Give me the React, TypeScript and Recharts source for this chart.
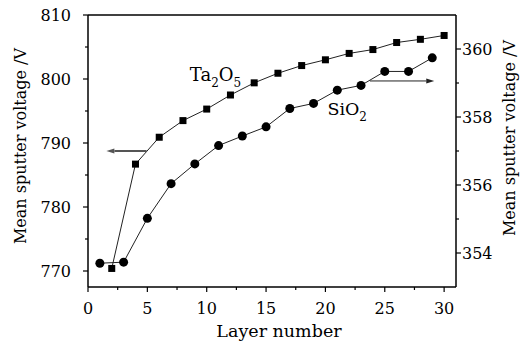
import { LineChart, Line, XAxis, YAxis, ReferenceLine, ReferenceDot } from 'recharts';

const ta2o5Layers = [2, 4, 6, 8, 10, 12, 14, 16, 18, 20, 22, 24, 26, 28, 30];
const ta2o5Voltage = [770.4, 786.7, 790.9, 793.5, 795.3, 797.5, 799.4, 800.9, 802.1, 803.0, 804.0, 804.6, 805.7, 806.2, 806.8];
const sio2Layers = [1, 3, 5, 7, 9, 11, 13, 15, 17, 19, 21, 23, 25, 27, 29];
const sio2Voltage = [353.7, 353.73, 355.02, 356.04, 356.62, 357.16, 357.44, 357.71, 358.25, 358.4, 358.79, 358.93, 359.34, 359.34, 359.74];

const xTicks = [0, 2.5, 5, 7.5, 10, 12.5, 15, 17.5, 20, 22.5, 25, 27.5, 30];
const leftTicks = [770, 775, 780, 785, 790, 795, 800, 805, 810];
const rightTicks = [354, 355, 356, 357, 358, 359, 360];

const FONT = 'DejaVu Serif';

const ta2o5Data = ta2o5Layers.map((x, i) => ({ x, v: ta2o5Voltage[i] }));
const sio2Data = sio2Layers.map((x, i) => ({ x, v: sio2Voltage[i] }));

const XTick = (props: any) => {
    const { x, y, payload } = props;
    const major = payload.value % 5 === 0;
    return (
        <g>
            <line x1={x} y1={y} x2={x} y2={y + (major ? 5 : 3)} stroke="#000" strokeWidth={1.2} />
            {major && (
                <text x={x} y={y + 27} textAnchor="middle" fontFamily={FONT} fontSize={16} fill="#000">
                    {payload.value}
                </text>
            )}
        </g>
    );
};

const LeftTick = (props: any) => {
    const { x, y, payload } = props;
    const major = payload.value % 10 === 0;
    return (
        <g>
            <line x1={x} y1={y} x2={x - (major ? 5 : 3)} y2={y} stroke="#000" strokeWidth={1.2} />
            {major && (
                <text x={x - 17} y={y} dy="0.36em" textAnchor="end" fontFamily={FONT} fontSize={16} fill="#000">
                    {payload.value}
                </text>
            )}
        </g>
    );
};

const RightTick = (props: any) => {
    const { x, y, payload } = props;
    const major = payload.value % 2 === 0;
    return (
        <g>
            <line x1={x} y1={y} x2={x + (major ? 5 : 3)} y2={y} stroke="#000" strokeWidth={1.2} />
            {major && (
                <text x={x + 6} y={y} dy="0.36em" textAnchor="start" fontFamily={FONT} fontSize={16} fill="#000">
                    {payload.value}
                </text>
            )}
        </g>
    );
};

const SquareDot = (props: any) => {
    const { cx, cy, index } = props;
    return <rect key={`sq-${index}`} x={cx - 3.5} y={cy - 3.5} width={7} height={7} fill="#000" />;
};

const arrow = (color: string, width: number) => (props: any) => {
    const { x1, y1, x2, y2 } = props;
    const dir = x2 > x1 ? 1 : -1;
    const len = 8;
    return (
        <g>
            <line x1={x1} y1={y1} x2={x2 - dir * len} y2={y2} stroke={color} strokeWidth={width} />
            <polygon
                points={`${x2},${y2} ${x2 - dir * len},${y2 - 2.5} ${x2 - dir * len},${y2 + 2.5}`}
                fill={color}
            />
        </g>
    );
};

const yLabel = (text: string, dx: number, dyCenter: number) => (props: any) => {
    const { viewBox } = props;
    const cx = viewBox.x + dx;
    const cy = viewBox.y + viewBox.height / 2 + dyCenter;
    return (
        <text
            x={cx}
            y={cy}
            transform={`rotate(-90 ${cx} ${cy})`}
            textAnchor="middle"
            dominantBaseline="central"
            fontFamily={FONT}
            fontSize={16}
            fill="#000"
        >
            {text}
        </text>
    );
};

const xLabel = (props: any) => {
    const { viewBox } = props;
    return (
        <text
            x={viewBox.x + viewBox.width / 2 + 7}
            y={viewBox.y + 50}
            textAnchor="middle"
            fontFamily={FONT}
            fontSize={17.5}
            fill="#000"
        >
            Layer number
        </text>
    );
};

export default function App() {
    return (
        <div style={{ position: 'absolute', left: 0, top: 0, background: '#fff' }}>
            <LineChart width={532} height={345} margin={{ top: 15, right: 0, bottom: 0, left: 0 }}>
                <XAxis
                    dataKey="x"
                    type="number"
                    domain={[0, 31]}
                    ticks={xTicks}
                    interval={0}
                    height={58}
                    tickSize={0}
                    tickMargin={0}
                    tickLine={false}
                    tick={<XTick />}
                    axisLine={{ stroke: '#000', strokeWidth: 1.5 }}
                    label={{ content: xLabel }}
                />
                <YAxis
                    yAxisId="left"
                    orientation="left"
                    type="number"
                    domain={[767.5, 810]}
                    ticks={leftTicks}
                    interval={0}
                    width={88}
                    tickSize={0}
                    tickMargin={0}
                    tickLine={false}
                    tick={<LeftTick />}
                    axisLine={{ stroke: '#000', strokeWidth: 1.5 }}
                    label={{ content: yLabel('Mean sputter voltage /V', 20, -5) }}
                />
                <YAxis
                    yAxisId="right"
                    orientation="right"
                    type="number"
                    domain={[353, 361]}
                    ticks={rightTicks}
                    interval={0}
                    width={76}
                    tickSize={0}
                    tickMargin={0}
                    tickLine={false}
                    tick={<RightTick />}
                    axisLine={{ stroke: '#000', strokeWidth: 1.5 }}
                    label={{ content: yLabel('Mean sputter voltage /V', 53, -13) }}
                />
                <ReferenceLine yAxisId="left" y={810} stroke="#000" strokeWidth={1.5} />
                <Line
                    yAxisId="left"
                    data={ta2o5Data}
                    dataKey="v"
                    stroke="#222"
                    strokeWidth={1}
                    dot={<SquareDot />}
                    isAnimationActive={false}
                />
                <Line
                    yAxisId="right"
                    data={sio2Data}
                    dataKey="v"
                    stroke="#222"
                    strokeWidth={1}
                    dot={{ r: 4.5, fill: '#000', stroke: 'none' }}
                    isAnimationActive={false}
                />
                <ReferenceLine
                    yAxisId="left"
                    segment={[{ x: 4.94, y: 788.75 }, { x: 1.55, y: 788.75 }]}
                    shape={arrow('#555', 2)}
                />
                <ReferenceLine
                    yAxisId="right"
                    segment={[{ x: 23.75, y: 359.06 }, { x: 29.17, y: 359.06 }]}
                    shape={arrow('#222', 1)}
                />
                <ReferenceDot
                    yAxisId="left"
                    x={8.58}
                    y={799.7}
                    shape={(p: any) => (
                        <text x={p.cx} y={p.cy} fontFamily={FONT} fontSize={18} fill="#000">
                            Ta
                            <tspan fontSize={12} dy={6}>2</tspan>
                            <tspan dy={-6}>O</tspan>
                            <tspan fontSize={12} dy={6}>5</tspan>
                        </text>
                    )}
                />
                <ReferenceDot
                    yAxisId="left"
                    x={20.17}
                    y={794.4}
                    shape={(p: any) => (
                        <text x={p.cx} y={p.cy} fontFamily={FONT} fontSize={17.5} fill="#000">
                            SiO
                            <tspan fontSize={12} dy={6}>2</tspan>
                        </text>
                    )}
                />
            </LineChart>
        </div>
    );
}
